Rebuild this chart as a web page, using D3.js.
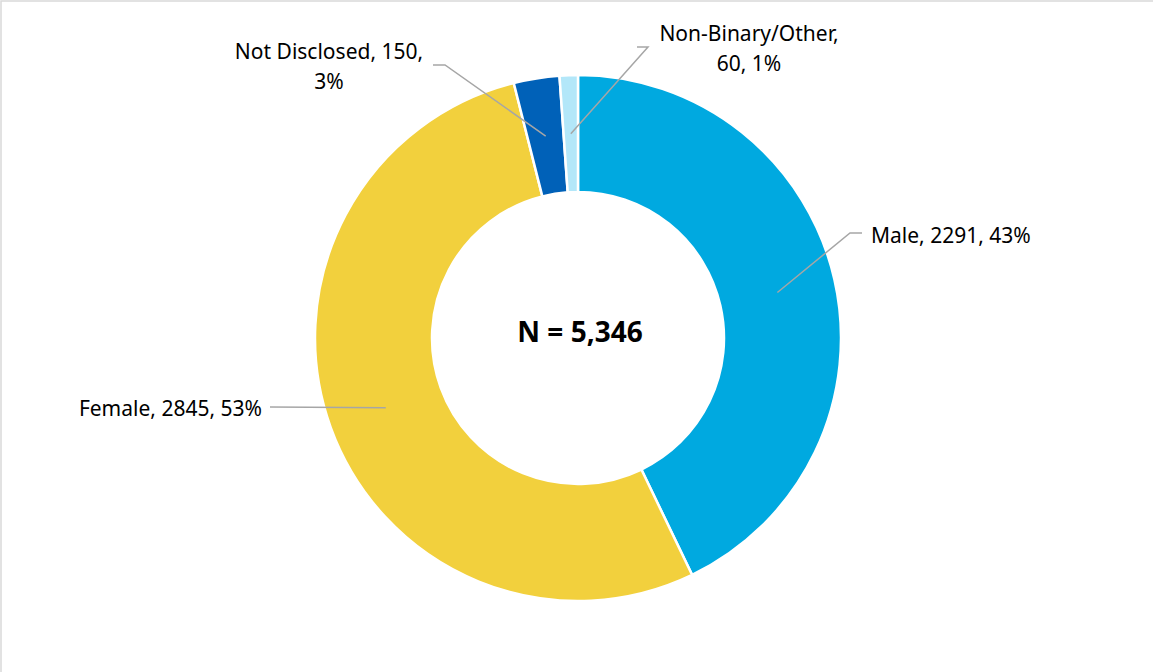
<!DOCTYPE html>
<html>
<head>
<meta charset="utf-8">
<script src="https://cdn.jsdelivr.net/npm/d3@7"></script>
<style>
  body { margin: 0; background: #fff; }
  text { font-family: "Noto Sans", "Open Sans", sans-serif; fill: #000; }
</style>
</head>
<body>
<div class="chart"></div>
<script>
// Chart data
var categories = ["Male", "Female", "Not Disclosed", "Non-Binary/Other"];
var counts = [2291, 2845, 150, 60];
var percents = ["43%", "53%", "3%", "1%"];
var colors = ["#00A9E0", "#F2D03D", "#0061B8", "#B3E7F9"];
var totalLabel = "N = 5,346";

// Label lines as drawn in the reference (text wraps for the top two)
var labelLines = [
  ["Male, 2291, 43%"],
  ["Female, 2845, 53%"],
  ["Not Disclosed, 150,", "3%"],
  ["Non-Binary/Other,", "60, 1%"]
];

// Layout (relative to the donut centre): elbow of leader, end of leader, text anchor
var labelLayout = [
  { elbow: [272, -105], end: [284, -105], text: [293, -95], anchor: "start" },
  { elbow: null, end: [-308, 69], text: [-316, 78], anchor: "end" },
  { elbow: [-133, -273], end: [-145, -273], text: [-249, -279], anchor: "middle" },
  { elbow: [70, -291], end: [59, -291], text: [171, -297], anchor: "middle" }
];

var svgWidth = 1153;
var svgHeight = 672;
var cx = 578;
var cy = 338;
var outerRadius = 263;
var innerRadius = 146;

var svg = d3.select(".chart")
  .append("svg")
  .attr("width", svgWidth)
  .attr("height", svgHeight);

// chart area border (only top and left visible in frame)
svg.append("rect")
  .attr("x", 1)
  .attr("y", 1)
  .attr("width", 1300)
  .attr("height", 800)
  .attr("fill", "none")
  .attr("stroke", "#d9d9d9")
  .attr("stroke-width", 1.5);

var chart = svg.append("g")
  .attr("transform", "translate(" + cx + "," + cy + ")");

var pie = d3.pie()
  .value(function(d) { return d; })
  .sort(null);

var arcs = pie(counts);

var arc = d3.arc()
  .innerRadius(innerRadius)
  .outerRadius(outerRadius);

var midArc = d3.arc()
  .innerRadius((innerRadius + outerRadius) / 2)
  .outerRadius((innerRadius + outerRadius) / 2);

chart.selectAll("path.slice")
  .data(arcs)
  .enter()
  .append("path")
  .attr("class", "slice")
  .attr("d", arc)
  .attr("fill", function(d, i) { return colors[i]; })
  .attr("stroke", "#fff")
  .attr("stroke-width", 2.5);

// leader lines
chart.selectAll("polyline.leader")
  .data(arcs)
  .enter()
  .append("polyline")
  .attr("class", "leader")
  .attr("points", function(d, i) {
    var pts = [midArc.centroid(d)];
    if (labelLayout[i].elbow) pts.push(labelLayout[i].elbow);
    pts.push(labelLayout[i].end);
    return pts.map(function(p) { return p.join(","); }).join(" ");
  })
  .attr("fill", "none")
  .attr("stroke", "#a6a6a6")
  .attr("stroke-width", 1.5);

// data labels
var labels = chart.selectAll("text.label")
  .data(arcs)
  .enter()
  .append("text")
  .attr("class", "label")
  .attr("x", function(d, i) { return labelLayout[i].text[0]; })
  .attr("y", function(d, i) { return labelLayout[i].text[1]; })
  .attr("text-anchor", function(d, i) { return labelLayout[i].anchor; })
  .style("font-size", "21px");

labels.each(function(d, i) {
  var t = d3.select(this);
  labelLines[i].forEach(function(line, j) {
    t.append("tspan")
      .attr("x", labelLayout[i].text[0])
      .attr("dy", j === 0 ? 0 : 30)
      .text(line);
  });
});

// centre total
chart.append("text")
  .attr("x", 2)
  .attr("y", 4)
  .attr("text-anchor", "middle")
  .style("font-size", "28px")
  .style("font-weight", "bold")
  .text(totalLabel);
</script>
</body>
</html>
